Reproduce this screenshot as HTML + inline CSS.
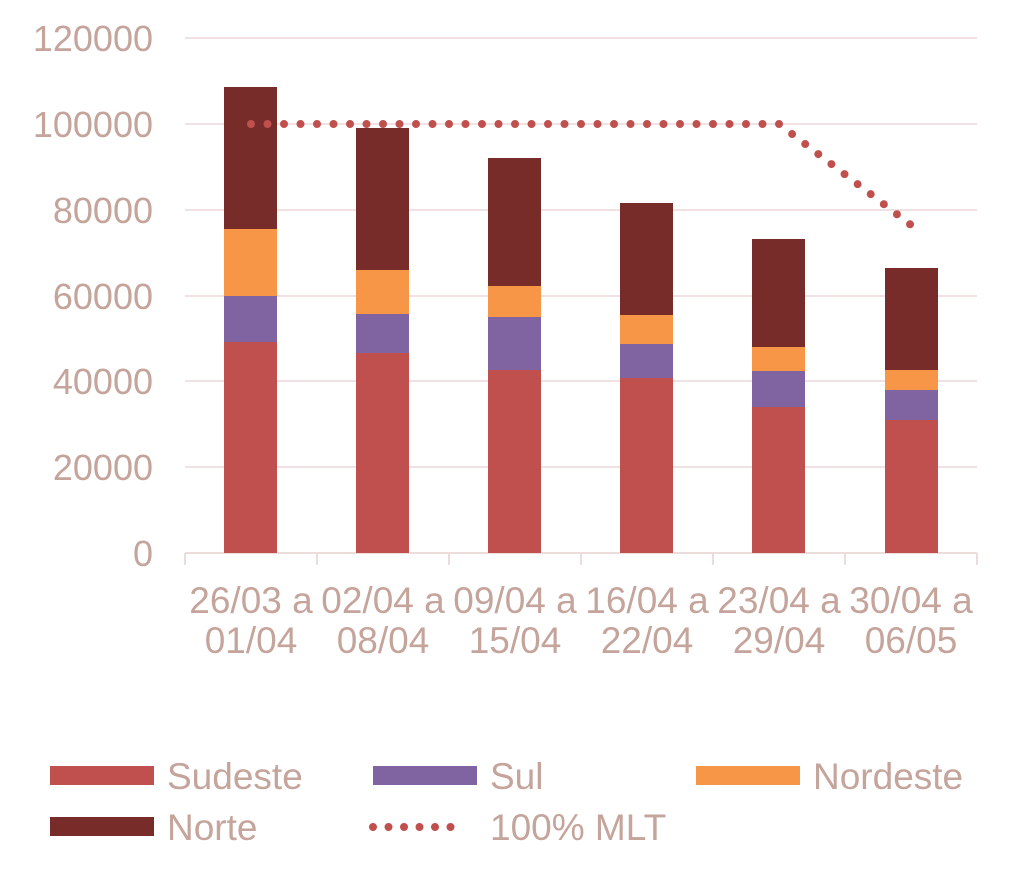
<!DOCTYPE html>
<html><head><style>body{margin:0;background:#fff}</style></head><body>
<svg width="1024" height="877" viewBox="0 0 1024 877" xmlns="http://www.w3.org/2000/svg" font-family="Liberation Sans, Arial, sans-serif" fill="#c4a49b">
<g stroke="#f0e2e2" stroke-width="2">
<line x1="185" y1="38" x2="977" y2="38"/><line x1="185" y1="124" x2="977" y2="124"/><line x1="185" y1="210" x2="977" y2="210"/><line x1="185" y1="296" x2="977" y2="296"/><line x1="185" y1="381" x2="977" y2="381"/><line x1="185" y1="467" x2="977" y2="467"/>
</g>
<g stroke="#ecdcdc" stroke-width="2">
<line x1="185" y1="553" x2="977" y2="553"/>
<line x1="185" y1="553" x2="185" y2="565"/><line x1="317" y1="553" x2="317" y2="565"/><line x1="449" y1="553" x2="449" y2="565"/><line x1="581" y1="553" x2="581" y2="565"/><line x1="713" y1="553" x2="713" y2="565"/><line x1="845" y1="553" x2="845" y2="565"/><line x1="977" y1="553" x2="977" y2="565"/>
</g>
<g font-size="36" text-anchor="end">
<text x="153" y="51">120000</text><text x="153" y="137">100000</text><text x="153" y="223">80000</text><text x="153" y="309">60000</text><text x="153" y="394">40000</text><text x="153" y="480">20000</text><text x="153" y="566">0</text>
</g>
<g>
<rect x="224" y="342" width="53" height="211" fill="#c0504d"/><rect x="224" y="296" width="53" height="46" fill="#8064a2"/><rect x="224" y="229" width="53" height="67" fill="#f79646"/><rect x="224" y="87" width="53" height="142" fill="#772c2a"/>
<rect x="356" y="353" width="53" height="200" fill="#c0504d"/><rect x="356" y="314" width="53" height="39" fill="#8064a2"/><rect x="356" y="270" width="53" height="44" fill="#f79646"/><rect x="356" y="128" width="53" height="142" fill="#772c2a"/>
<rect x="488" y="370" width="53" height="183" fill="#c0504d"/><rect x="488" y="317" width="53" height="53" fill="#8064a2"/><rect x="488" y="286" width="53" height="31" fill="#f79646"/><rect x="488" y="158" width="53" height="128" fill="#772c2a"/>
<rect x="620" y="378" width="53" height="175" fill="#c0504d"/><rect x="620" y="344" width="53" height="34" fill="#8064a2"/><rect x="620" y="315" width="53" height="29" fill="#f79646"/><rect x="620" y="203" width="53" height="112" fill="#772c2a"/>
<rect x="752" y="407" width="53" height="146" fill="#c0504d"/><rect x="752" y="371" width="53" height="36" fill="#8064a2"/><rect x="752" y="347" width="53" height="24" fill="#f79646"/><rect x="752" y="239" width="53" height="108" fill="#772c2a"/>
<rect x="885" y="420" width="53" height="133" fill="#c0504d"/><rect x="885" y="390" width="53" height="30" fill="#8064a2"/><rect x="885" y="370" width="53" height="20" fill="#f79646"/><rect x="885" y="268" width="53" height="102" fill="#772c2a"/>
</g>
<polyline points="251,124 779,124 911,225" fill="none" stroke="#c0504d" stroke-width="8" stroke-linecap="round" stroke-dasharray="0 16.5"/>
<g font-size="37" text-anchor="middle">
<text x="251" y="613">26/03 a</text><text x="251" y="653">01/04</text>
<text x="383" y="613">02/04 a</text><text x="383" y="653">08/04</text>
<text x="515" y="613">09/04 a</text><text x="515" y="653">15/04</text>
<text x="647" y="613">16/04 a</text><text x="647" y="653">22/04</text>
<text x="779" y="613">23/04 a</text><text x="779" y="653">29/04</text>
<text x="911" y="613">30/04 a</text><text x="911" y="653">06/05</text>
</g>
<rect x="50" y="766" width="104" height="19" fill="#c0504d"/>
<rect x="373" y="766" width="104" height="19" fill="#8064a2"/>
<rect x="696" y="766" width="104" height="19" fill="#f79646"/>
<rect x="50" y="817" width="104" height="19" fill="#772c2a"/>
<line x1="373" y1="827" x2="466" y2="827" stroke="#c0504d" stroke-width="8" stroke-linecap="round" stroke-dasharray="0 15.5"/>
<g font-size="37">
<text x="167" y="789">Sudeste</text><text x="490" y="789">Sul</text><text x="813" y="789">Nordeste</text>
<text x="167" y="840">Norte</text><text x="490" y="840">100% MLT</text>
</g>
</svg>
</body></html>
